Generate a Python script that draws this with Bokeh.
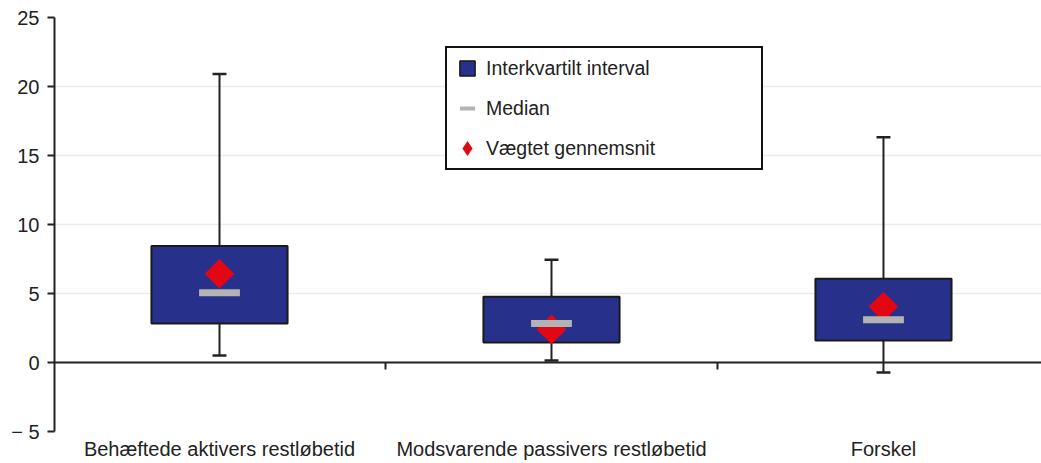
import numpy as np
from bokeh.plotting import figure
from bokeh.models import (ColumnDataSource, FixedTicker, Span, Legend, LegendItem)
from bokeh.embed import file_html
from bokeh.resources import INLINE

categories = ["Behæftede aktivers restløbetid", "Modsvarende passivers restløbetid", "Forskel"]
q1 = [2.82, 1.45, 1.6]
q3 = [8.45, 4.77, 6.07]
median = [5.06, 2.82, 3.1]
mean = [6.43, 2.4, 4.05]
whisk_low = [0.5, 0.15, -0.72]
whisk_high = [20.9, 7.44, 16.33]
y_ticks = [-5, 0, 5, 10, 15, 20, 25]
y_labels = {-5: "\u2212 5"}

FONT = "Liberation Sans"
x = list(range(len(categories)))
src = ColumnDataSource(dict(x=x, q1=q1, q3=q3, med=median, mean=mean, lo=whisk_low, hi=whisk_high))

p = figure(width=1041, height=463, output_backend="svg", toolbar_location=None,
           x_range=(-0.497, 2.476), y_range=(-5, 25),
           min_border_left=54, min_border_right=0, min_border_top=17, min_border_bottom=32)
p.outline_line_color = None
p.background_fill_color = "white"

# axes
p.xaxis.ticker = FixedTicker(ticks=x)
p.xaxis.major_label_overrides = {i: c for i, c in enumerate(categories)}
p.xaxis.axis_line_color = None
p.xaxis.major_tick_line_color = None
p.xaxis.major_tick_out = 0
p.xaxis.major_tick_in = 0
p.xaxis.minor_tick_line_color = None
p.xaxis.minor_tick_out = 0
p.xaxis.major_label_text_font = FONT
p.xaxis.major_label_text_font_size = "20px"
p.xaxis.major_label_text_color = "#222222"
p.xaxis.major_label_standoff = 6
p.xgrid.grid_line_color = None

p.yaxis.ticker = FixedTicker(ticks=y_ticks)
p.yaxis.major_label_overrides = y_labels
p.yaxis.axis_line_color = "#222222"
p.yaxis.axis_line_width = 2
p.yaxis.major_tick_line_color = "#222222"
p.yaxis.major_tick_line_width = 2
p.yaxis.major_tick_out = 7
p.yaxis.major_tick_in = 0
p.yaxis.minor_tick_line_color = None
p.yaxis.major_label_text_font = FONT
p.yaxis.major_label_text_font_size = "20px"
p.yaxis.major_label_text_color = "#222222"
p.yaxis.major_label_standoff = 8
p.ygrid.grid_line_color = "#ebebeb"
p.ygrid.grid_line_width = 1.5

# zero line and category separators
p.add_layout(Span(location=0, dimension="width", line_color="#222222", line_width=2))
sep = np.arange(len(categories) - 1) + 0.5
p.segment(x0=sep, x1=sep, y0=[0] * len(sep), y1=[-0.5] * len(sep), line_color="#222222", line_width=2)

# whiskers
p.segment(x0="x", x1="x", y0="lo", y1="hi", source=src, line_color="#222222", line_width=2)
cap_w = 0.021
p.segment(x0=[v - cap_w for v in x], x1=[v + cap_w for v in x], y0=whisk_low, y1=whisk_low,
          line_color="#222222", line_width=2.5)
p.segment(x0=[v - cap_w for v in x], x1=[v + cap_w for v in x], y0=whisk_high, y1=whisk_high,
          line_color="#222222", line_width=2.5)

# boxes
p.vbar(x="x", bottom="q1", top="q3", width=0.41, source=src,
       fill_color="#27318b", line_color="#1a1a1a", line_width=2)
# mean
p.scatter(x="x", y="mean", source=src, marker="square", size=21, angle=np.pi / 4,
          fill_color="#e30613", line_color=None)
# median
p.rect(x="x", y="med", width=0.123, height=7, height_units="screen", source=src,
       fill_color="#b3b3b3", line_color=None)

# legend dummies
nan = [np.nan]
r_box = p.scatter(x=nan, y=nan, marker="square", fill_color="#27318b",
                  line_color="#1a1a1a", line_width=1.5)
r_med = p.scatter(x=nan, y=nan, marker="dash", line_color="#b3b3b3", line_width=4)
r_mean = p.scatter(x=nan, y=nan, marker="diamond", fill_color="#e30613", line_color=None)

legend = Legend(items=[LegendItem(label="Interkvartilt interval", renderers=[r_box]),
                       LegendItem(label="Median", renderers=[r_med]),
                       LegendItem(label="Vægtet gennemsnit", renderers=[r_mean])],
                location=(391, 261), orientation="vertical",
                border_line_color="#111111", border_line_width=2, border_line_alpha=1,
                background_fill_color="white", background_fill_alpha=1,
                padding=1, spacing=2, label_height=38, glyph_height=38, glyph_width=38,
                label_standoff=0, label_width=274, margin=0,
                label_text_font=FONT, label_text_font_size="19.5px", label_text_color="#222222")
p.add_layout(legend, "center")

open("out.html", "w").write(file_html(p, INLINE))
